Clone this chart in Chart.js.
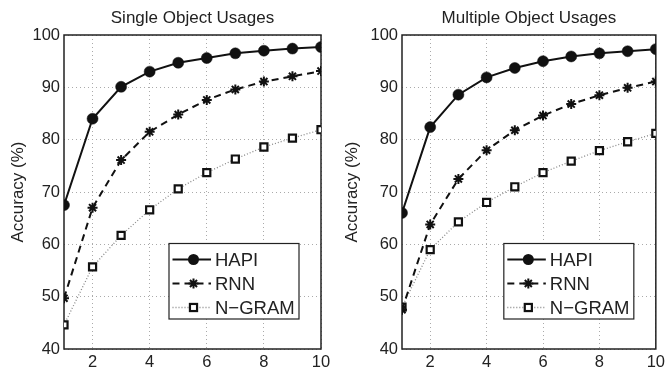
<!DOCTYPE html>
<html>
<head>
<meta charset="utf-8">
<script src="https://cdn.jsdelivr.net/npm/chart.js@4.4.1/dist/chart.umd.min.js"></script>
<style>
  html, body { margin: 0; padding: 0; background: #fff; }
  #wrap { position: relative; width: 669px; height: 371px; }
  canvas { position: absolute; top: 0; }
</style>
</head>
<body>
<div id="wrap">
  <canvas id="c1" width="335" height="371" style="left:0px"></canvas>
  <canvas id="c2" width="335" height="371" style="left:334px"></canvas>
</div>
<script>
// ---- data ----
const topK = [1, 2, 3, 4, 5, 6, 7, 8, 9, 10];
const xTickValues = [2, 4, 6, 8, 10];
const seriesNames = ['HAPI', 'RNN', 'N\u2212GRAM'];
const titles = ['Single Object Usages', 'Multiple Object Usages'];
const yAxisLabel = 'Accuracy (%)';

const singleHAPI  = [67.5, 84.0, 90.1, 93.0, 94.7, 95.6, 96.5, 97.0, 97.4, 97.7];
const singleRNN   = [49.7, 67.0, 76.1, 81.5, 84.8, 87.6, 89.6, 91.1, 92.1, 93.1];
const singleNGRAM = [44.6, 55.7, 61.7, 66.6, 70.6, 73.7, 76.3, 78.6, 80.3, 81.9];

const multiHAPI  = [66.0, 82.4, 88.6, 91.9, 93.7, 95.0, 95.9, 96.5, 96.9, 97.3];
const multiRNN   = [47.5, 63.8, 72.5, 78.0, 81.8, 84.6, 86.8, 88.5, 89.9, 91.1];
const multiNGRAM = [48.0, 59.0, 64.3, 68.0, 71.0, 73.7, 75.9, 77.9, 79.6, 81.2];

// ---- styling ----
const FONT = '"Liberation Sans", Arial, Helvetica, sans-serif';

function pts(ys) { return topK.map((x, i) => ({ x: x, y: ys[i] })); }

function makeDatasets(h, r, n) {
  return [
    { label: seriesNames[0], data: pts(h), borderColor: '#111', borderWidth: 2,
      pointStyle: 'circle', pointRadius: 5.5, pointBackgroundColor: '#111', pointBorderColor: '#111',
      pointBorderWidth: 0.5, tension: 0 },
    { label: seriesNames[1], data: pts(r), borderColor: '#111', borderWidth: 2, borderDash: [7, 5],
      pointStyle: 'star', pointRadius: 5, pointBorderColor: '#111', pointBackgroundColor: '#111',
      pointBorderWidth: 2, tension: 0 },
    { label: seriesNames[2], data: pts(n), borderColor: '#888', borderWidth: 1.3, borderDash: [1, 2],
      pointStyle: 'rect', pointRadius: 5, pointBorderColor: '#111', pointBackgroundColor: '#fff',
      pointBorderWidth: 2.2, tension: 0 }
  ];
}

function drawMarker(ctx, style, x, y) {
  ctx.save();
  ctx.setLineDash([]);
  ctx.strokeStyle = '#111';
  if (style === 'circle') {
    ctx.fillStyle = '#111';
    ctx.beginPath(); ctx.arc(x, y, 5.5, 0, Math.PI * 2); ctx.fill();
  } else if (style === 'star') {
    ctx.lineWidth = 2;
    const r = 5;
    ctx.beginPath();
    for (let k = 0; k < 4; k++) {
      const a = k * Math.PI / 4;
      ctx.moveTo(x - r * Math.cos(a), y - r * Math.sin(a));
      ctx.lineTo(x + r * Math.cos(a), y + r * Math.sin(a));
    }
    ctx.stroke();
  } else {
    ctx.lineWidth = 2.2;
    ctx.fillStyle = '#fff';
    const s = 3.55;
    ctx.fillRect(x - s, y - s, 2 * s, 2 * s);
    ctx.strokeRect(x - s, y - s, 2 * s, 2 * s);
  }
  ctx.restore();
}

const framePlugin = {
  id: 'frame',
  beforeDatasetsDraw(chart) {
    const { ctx, chartArea: a } = chart;
    ctx.save();
    ctx.strokeStyle = '#222';
    ctx.lineWidth = 1.5;
    ctx.strokeRect(a.left, a.top, a.right - a.left, a.bottom - a.top);
    ctx.restore();
  },
  afterDraw(chart, args, opts) {
    const { ctx, chartArea: a } = chart;
    // title
    ctx.save();
    ctx.fillStyle = '#222';
    ctx.font = '17px ' + FONT;
    ctx.textAlign = 'center';
    ctx.textBaseline = 'alphabetic';
    ctx.fillText(opts.title, (a.left + a.right) / 2, 23);
    ctx.restore();
    // legend
    const bw = 130, bh = 75.5;
    const bx = a.right - 22 - bw, by = a.bottom - 30 - bh;
    ctx.save();
    ctx.fillStyle = '#fff';
    ctx.fillRect(bx, by, bw, bh);
    ctx.strokeStyle = '#222';
    ctx.lineWidth = 1.2;
    ctx.strokeRect(bx, by, bw, bh);
    const rows = [16, 40, 64];
    chart.data.datasets.forEach((ds, i) => {
      const y = by + rows[i];
      ctx.save();
      ctx.strokeStyle = ds.borderColor;
      ctx.lineWidth = ds.borderWidth;
      ctx.setLineDash(ds.borderDash || []);
      ctx.beginPath(); ctx.moveTo(bx + 3.5, y); ctx.lineTo(bx + 42, y); ctx.stroke();
      ctx.restore();
      drawMarker(ctx, ds.pointStyle, bx + 24.5, y);
      ctx.fillStyle = '#222';
      ctx.font = '18.5px ' + FONT;
      ctx.textAlign = 'left';
      ctx.textBaseline = 'middle';
      ctx.fillText(ds.label, bx + 46, y + 1);
    });
    ctx.restore();
  }
};

function makeChart(id, title, datasets, padLeft, padRight) {
  return new Chart(document.getElementById(id), {
    type: 'line',
    data: { datasets: datasets },
    plugins: [framePlugin],
    options: {
      responsive: false,
      animation: false,
      layout: { padding: { left: 0, right: padRight, top: 35, bottom: 0 } },
      plugins: { legend: { display: false }, title: { display: false }, tooltip: { enabled: false },
                 frame: { title: title } },
      scales: {
        x: {
          type: 'linear', min: 1, max: 10,
          afterBuildTicks(s) { s.ticks = xTickValues.map(v => ({ value: v })); },
          afterFit(s) { s.height = 22; },
          grid: { color: '#aaa', lineWidth: 1, drawTicks: false },
          border: { display: false, dash: [1, 3] },
          ticks: { color: '#222', font: { family: FONT, size: 16.5 }, padding: 4, maxRotation: 0 }
        },
        y: {
          min: 40, max: 100,
          ticks: { stepSize: 10, color: '#222', font: { family: FONT, size: 16.5 }, padding: 4 },
          afterFit(s) { s.width = padLeft; },
          grid: { color: '#aaa', lineWidth: 1, drawTicks: false },
          border: { display: false, dash: [1, 3] },
          title: { display: true, text: yAxisLabel, color: '#222',
                   font: { family: FONT, size: 17 }, padding: { top: 8, bottom: 0 } }
        }
      }
    }
  });
}

makeChart('c1', titles[0], makeDatasets(singleHAPI, singleRNN, singleNGRAM), 64, 14);
makeChart('c2', titles[1], makeDatasets(multiHAPI, multiRNN, multiNGRAM), 68, 10);
</script>
</body>
</html>
